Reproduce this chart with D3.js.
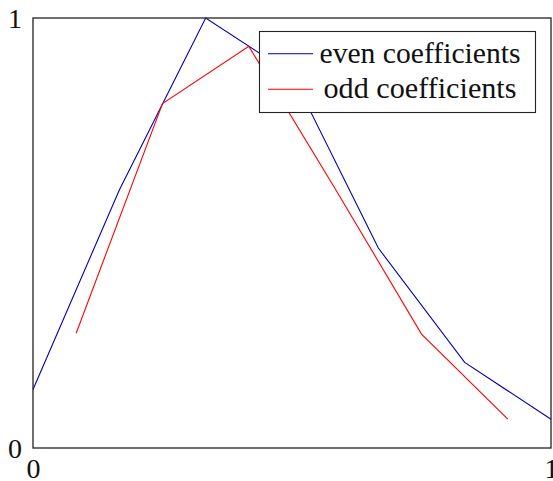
<!DOCTYPE html>
<html><head><meta charset="utf-8">
<script src="https://cdn.jsdelivr.net/npm/d3@7"></script>
<style>body{margin:0;background:#fff}svg{display:block}</style>
</head><body>
<svg id="c" width="553" height="481"></svg>
<script>
const evenX = [0, 2/12, 4/12, 6/12, 8/12, 10/12, 1];
const evenY = [0.136, 0.600, 1.000, 0.869, 0.465, 0.199, 0.067];
const oddX = [1/12, 3/12, 5/12, 7/12, 9/12, 11/12];
const oddY = [0.267, 0.801, 0.934, 0.603, 0.265, 0.067];
const xTicks = [0, 1];
const yTicks = [0, 1];
const seriesNames = ["even coefficients", "odd coefficients"];
const seriesColors = ["#0000b4", "#ff0000"];

const svg = d3.select("#c");
const L = 33, R = 551, T = 18, B = 448;
const x = d3.scaleLinear().domain([0, 1]).range([L, R]);
const y = d3.scaleLinear().domain([0, 1]).range([B, T]);
const font = "'Liberation Serif', 'DejaVu Serif', serif";

const line = d3.line().x(d => x(d[0])).y(d => y(d[1]));
const series = [
  evenX.map((v, i) => [v, evenY[i]]),
  oddX.map((v, i) => [v, oddY[i]])
];
series.forEach((s, i) => {
  svg.append("path").datum(s).attr("d", line)
    .attr("fill", "none").attr("stroke", seriesColors[i]).attr("stroke-width", 1.1);
});

svg.append("rect").attr("x", L).attr("y", T).attr("width", R - L).attr("height", B - T)
  .attr("fill", "none").attr("stroke", "#222").attr("stroke-width", 1.3);

const xAxis = d3.axisBottom(x).tickValues(xTicks).tickSize(0).tickPadding(10).tickFormat(d3.format("d"));
const gx = svg.append("g").attr("transform", `translate(0,${B})`).call(xAxis);
gx.select(".domain").remove();
gx.selectAll("text").attr("font-family", font).attr("font-size", 28).attr("fill", "#111").attr("dy", "0.71em").attr("y", 10);

const yAxis = d3.axisLeft(y).tickValues(yTicks).tickSize(0).tickPadding(11).tickFormat(d3.format("d"));
const gy = svg.append("g").attr("transform", `translate(${L},0)`).call(yAxis);
gy.select(".domain").remove();
gy.selectAll("text").attr("font-family", font).attr("font-size", 28).attr("fill", "#111").attr("dy", "0.34em");

// legend
const lg = svg.append("g");
lg.append("rect").attr("x", 259.5).attr("y", 31.5).attr("width", 276).attr("height", 81)
  .attr("fill", "#fff").attr("stroke", "#222").attr("stroke-width", 1.1);
const textStart = [319.5, 323.5], textLen = [201, 193];
seriesNames.forEach((n, i) => {
  const cy = 53.7 + i * 35.6;
  lg.append("line").attr("x1", 268).attr("x2", 313).attr("y1", cy).attr("y2", cy)
    .attr("stroke", seriesColors[i]).attr("stroke-width", 1.1);
  lg.append("text").attr("x", textStart[i]).attr("y", cy).attr("dy", "0.3em")
    .attr("font-family", font).attr("font-size", 29.5)
    .attr("textLength", textLen[i]).attr("lengthAdjust", "spacingAndGlyphs")
    .attr("fill", "#111").text(n);
});
</script>
</body></html>
